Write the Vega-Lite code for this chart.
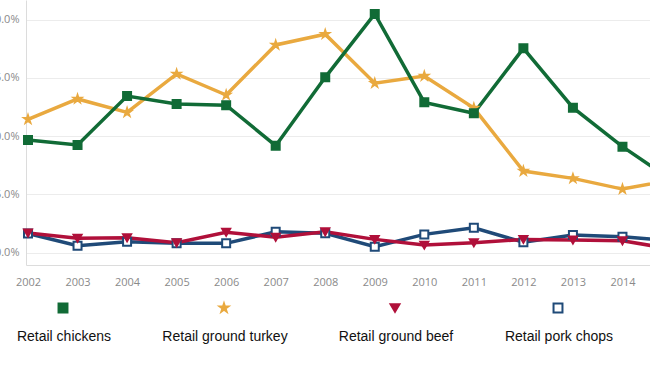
{
  "$schema": "https://vega.github.io/schema/vega-lite/v6.json",
  "width": 648,
  "height": 265,
  "autosize": {"type": "none"},
  "padding": {"left": 26, "top": 0, "right": -24, "bottom": 101},
  "background": "white",
  "config": {
    "view": {"stroke": null},
    "font": "Open Sans",
    "style": {"guide-label": {"lineHeight": 58}}
  },
  "data": {
    "values": [
      {"series": "Retail pork chops", "year": 2002, "pct": 1.63},
      {"series": "Retail pork chops", "year": 2003, "pct": 0.58},
      {"series": "Retail pork chops", "year": 2004, "pct": 0.93},
      {"series": "Retail pork chops", "year": 2005, "pct": 0.79},
      {"series": "Retail pork chops", "year": 2006, "pct": 0.79},
      {"series": "Retail pork chops", "year": 2007, "pct": 1.79},
      {"series": "Retail pork chops", "year": 2008, "pct": 1.65},
      {"series": "Retail pork chops", "year": 2009, "pct": 0.5},
      {"series": "Retail pork chops", "year": 2010, "pct": 1.56},
      {"series": "Retail pork chops", "year": 2011, "pct": 2.13},
      {"series": "Retail pork chops", "year": 2012, "pct": 0.88},
      {"series": "Retail pork chops", "year": 2013, "pct": 1.5},
      {"series": "Retail pork chops", "year": 2014, "pct": 1.36},
      {"series": "Retail pork chops", "year": 2015, "pct": 1.0},
      {"series": "Retail ground beef", "year": 2002, "pct": 1.68},
      {"series": "Retail ground beef", "year": 2003, "pct": 1.22},
      {"series": "Retail ground beef", "year": 2004, "pct": 1.27},
      {"series": "Retail ground beef", "year": 2005, "pct": 0.84},
      {"series": "Retail ground beef", "year": 2006, "pct": 1.74},
      {"series": "Retail ground beef", "year": 2007, "pct": 1.31},
      {"series": "Retail ground beef", "year": 2008, "pct": 1.79},
      {"series": "Retail ground beef", "year": 2009, "pct": 1.13},
      {"series": "Retail ground beef", "year": 2010, "pct": 0.64},
      {"series": "Retail ground beef", "year": 2011, "pct": 0.84},
      {"series": "Retail ground beef", "year": 2012, "pct": 1.13},
      {"series": "Retail ground beef", "year": 2013, "pct": 1.07},
      {"series": "Retail ground beef", "year": 2014, "pct": 1.01},
      {"series": "Retail ground beef", "year": 2015, "pct": 0.3},
      {"series": "Retail ground turkey", "year": 2002, "pct": 11.44},
      {"series": "Retail ground turkey", "year": 2003, "pct": 13.19},
      {"series": "Retail ground turkey", "year": 2004, "pct": 12.04},
      {"series": "Retail ground turkey", "year": 2005, "pct": 15.34},
      {"series": "Retail ground turkey", "year": 2006, "pct": 13.53},
      {"series": "Retail ground turkey", "year": 2007, "pct": 17.83},
      {"series": "Retail ground turkey", "year": 2008, "pct": 18.75},
      {"series": "Retail ground turkey", "year": 2009, "pct": 14.54},
      {"series": "Retail ground turkey", "year": 2010, "pct": 15.16},
      {"series": "Retail ground turkey", "year": 2011, "pct": 12.41},
      {"series": "Retail ground turkey", "year": 2012, "pct": 7.0},
      {"series": "Retail ground turkey", "year": 2013, "pct": 6.37},
      {"series": "Retail ground turkey", "year": 2014, "pct": 5.45},
      {"series": "Retail ground turkey", "year": 2015, "pct": 6.25},
      {"series": "Retail chickens", "year": 2002, "pct": 9.66},
      {"series": "Retail chickens", "year": 2003, "pct": 9.24},
      {"series": "Retail chickens", "year": 2004, "pct": 13.44},
      {"series": "Retail chickens", "year": 2005, "pct": 12.76},
      {"series": "Retail chickens", "year": 2006, "pct": 12.65},
      {"series": "Retail chickens", "year": 2007, "pct": 9.18},
      {"series": "Retail chickens", "year": 2008, "pct": 15.05},
      {"series": "Retail chickens", "year": 2009, "pct": 20.49},
      {"series": "Retail chickens", "year": 2010, "pct": 12.9},
      {"series": "Retail chickens", "year": 2011, "pct": 11.96},
      {"series": "Retail chickens", "year": 2012, "pct": 17.54},
      {"series": "Retail chickens", "year": 2013, "pct": 12.44},
      {"series": "Retail chickens", "year": 2014, "pct": 9.09},
      {"series": "Retail chickens", "year": 2015, "pct": 6.2}
    ]
  },
  "encoding": {
    "x": {
      "field": "year",
      "type": "quantitative",
      "scale": {"domain": [2002, 2015], "nice": false, "zero": false, "padding": 2},
      "axis": {
        "title": null,
        "values": [2002, 2003, 2004, 2005, 2006, 2007, 2008, 2009, 2010, 2011, 2012, 2013, 2014, 2015],
        "format": "d",
        "grid": false,
        "ticks": false,
        "domainColor": "#dcdcdc",
        "labelColor": "#8a8a8a",
        "labelFont": "Open Sans",
        "labelFontSize": 11,
        "labelPadding": 11,
        "labelFlush": true
      }
    },
    "y": {
      "field": "pct",
      "type": "quantitative",
      "scale": {"domain": [-1.07, 21.69], "nice": false, "zero": false},
      "axis": {
        "title": null,
        "values": [0, 5, 10, 15, 20],
        "labelExpr": "format(datum.value, '.1f') + '%'",
        "ticks": false,
        "domainColor": "#dcdcdc",
        "gridColor": "#ececec",
        "labelColor": "#8a8a8a",
        "labelFont": "Open Sans",
        "labelFontSize": 11,
        "labelPadding": 7
      }
    },
    "stroke": {
      "field": "series",
      "type": "nominal",
      "scale": {
        "domain": ["Retail chickens", "Retail ground turkey", "Retail ground beef", "Retail pork chops"],
        "range": ["#116b36", "#e9a93f", "#b0103a", "#1f4a78"]
      },
      "legend": {
        "title": null,
        "orient": "none",
        "direction": "horizontal",
        "legendX": 30,
        "legendY": 301,
        "labelBaseline": "line-top",
        "labelAlign": "center",
        "labelOffset": -6,
        "labelFont": "Liberation Sans",
        "labelFontSize": 14,
        "labelColor": "#111111",
        "labelLimit": 300,
        "symbolSize": 80,
        "symbolStrokeWidth": 2,
        "columnPadding": 50
      }
    }
  },
  "layer": [
    {"mark": {"type": "line", "strokeWidth": 3.5}},
    {
      "mark": {"type": "point", "size": 64, "strokeWidth": 2, "opacity": 1},
      "encoding": {
        "shape": {
          "field": "series",
          "type": "nominal",
          "scale": {
            "domain": ["Retail chickens", "Retail ground turkey", "Retail ground beef", "Retail pork chops"],
            "range": ["square", "M0,-1L0.2245,-0.309L0.951,-0.309L0.363,0.118L0.588,0.809L0,0.382L-0.588,0.809L-0.363,0.118L-0.951,-0.309L-0.2245,-0.309Z", "triangle-down", "square"]
          },
          "legend": {"title": null}
        },
        "fill": {
          "field": "series",
          "type": "nominal",
          "scale": {
            "domain": ["Retail chickens", "Retail ground turkey", "Retail ground beef", "Retail pork chops"],
            "range": ["#116b36", "#e9a93f", "#b0103a", "#ffffff"]
          },
          "legend": {"title": null}
        }
      }
    }
  ]
}
